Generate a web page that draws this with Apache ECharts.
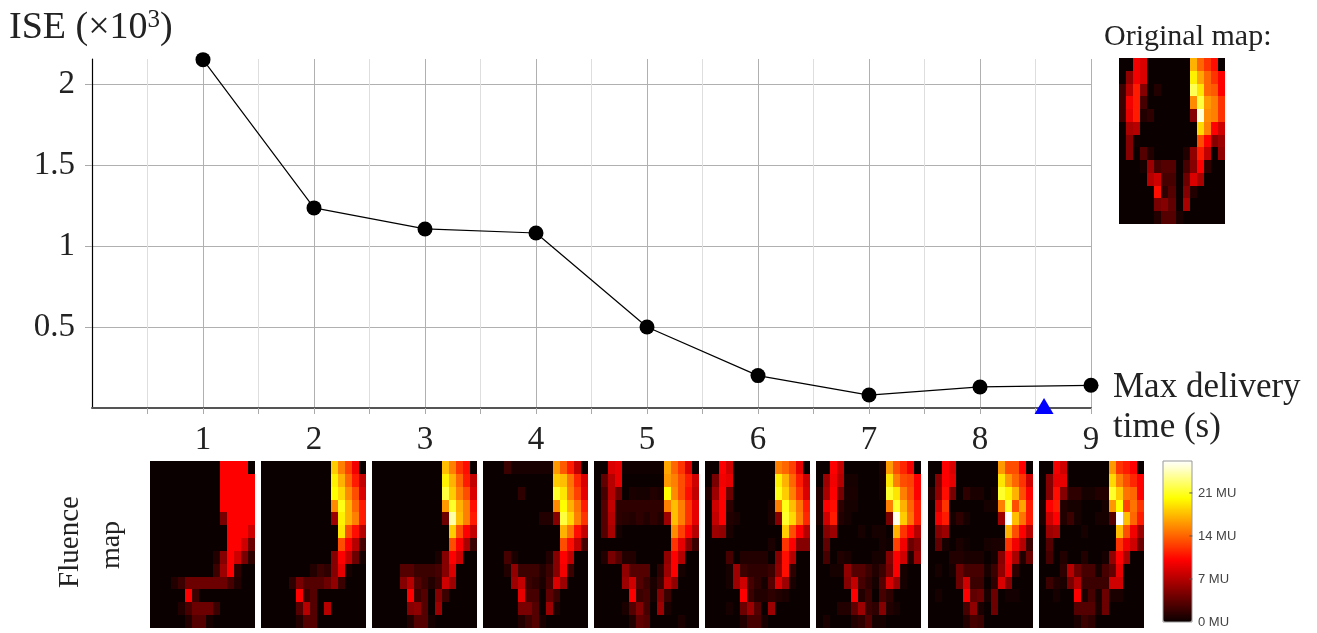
<!DOCTYPE html>
<html><head><meta charset="utf-8">
<style>html,body{margin:0;padding:0;background:#fff}#c{width:1317px;height:633px}</style>
<script src="https://cdn.jsdelivr.net/npm/echarts@6/dist/echarts.min.js"></script>
</head><body><div id="c"></div>
<script>
const timeValues = [1,2,3,4,5,6,7,8,9];
const iseValues = [2.15,1.235,1.105,1.08,0.5,0.2,0.08,0.13,0.14];
const markerPoint = [8.577,0.012];
const yTicks = [0.5,1,1.5,2];
const barTicks = [0,7,14,21];
const hotColors = ['#0a0000','#3b0000','#6c0000','#9d0000','#ce0000','#ff0000','#ff3300','#ff6600','#ff9900','#ffcc00','#ffff00','#ffff55','#ffffaa','#ffffff'];

const originalMap = [
[0,0,9.5,8.5,0,0,0,0,0,0,17,14,12,10.5,0],
[0,5.5,9.5,8.5,0,0,0,0,0,0,19.5,16.5,14,12,10],
[2,7,11,5,0,1,0,0,0,0,22,19,14,13.5,10],
[2,9.5,11,2.5,0,0,0,0,0,0,15.5,21.5,16,15,12],
[2,9,11,1,1.5,0,0,0,0,0,5,25,15.5,15,12],
[0,6.5,7,0,0,0,0,0,0,0,0,18.5,15,10,8],
[0,5,0.3,0,0,0,0,0,0,0,0,13,10,5,6],
[0,5,0,3,1,0,0,0,0,1,5.5,11,7.5,0,5.5],
[0,0,0,0.5,6,2.5,3,3,0,2.5,5,10,1.5,0,0],
[0,0,0,0,7,8,2.5,2.5,0,4,8.5,6.5,0,0,0],
[0,0,0,0,0,10.5,1.5,3,0,5,1,0,0,0,0],
[0,0,0,0,0,4.5,5,3.5,0,6.5,0,0,0,0,0],
[0,0,0,0,0,1,3,3,0.7,0,0,0,0,0,0]];
const map1 = [
[0,0,0,0,0,0,0,0,0,0,10,10,10,10,0],
[0,0,0,0,0,0,0,0,0,0,10,10,10,10,10],
[0,0,0,0,0,0,0,0,0,0,10,10,10,10,10],
[0,0,0,0,0,0,0,0,0,0,10,10,10,10,10],
[0,0,0,0,0,0,0,0,0,0,4.5,10,10,10,10],
[0,0,0,0,0,0,0,0,0,0,0,10,10,10,8],
[0,0,0,0,0,0,0,0,0,0,0,10,10,8,4],
[0,0,0,0,0,0,0,0,0,1,5,10,8,4.5,1.5],
[0,0,0,0,0,0,0,0,0,2,6,10,1.5,0,0],
[0,0,0,1,2,4,4,4,4,4,4,2.5,1,0,0],
[0,0,0,0,0,10,2,0,0,0,0,0,0,0,0],
[0,0,0,0,1,2.5,4,4,4,2,0,0,0,0,0],
[0,0,0,0,0,1,3,3,0.5,0,0,0,0,0,0]];
const map2 = [
[0,0,0,0,0,0,0,0,0,0,18,15,12.5,9.5,0],
[0,0,0,0,0,0,0,0,0,0,19.5,17,14,11,7.5],
[0,0,0,0,0,0,0,0,0,0,20,18.5,15.5,13,8.5],
[0,0,0,0,0,0,0,0,0,0,15.5,20.5,17,14,11],
[0,0,0,0,0,0,0,0,0,0,6,19.5,17,15,11],
[0,0,0,0,0,0,0,0,0,0,0,19,13,10.5,7],
[0,0,0,0,0,0,0,0,0,0,0,13,10,7,2.5],
[0,0,0,0,0,0,0,0,0,0,5,10,7.5,4,0.5],
[0,0,0,0,0,0,0,1,2,1.5,5,9,0.5,0,0],
[0,0,0,0,1.5,4.5,3,3,3,4,5.5,2,0,0,0],
[0,0,0,0,0,10,2,3,0,0,0,0,0,0,0],
[0,0,0,0,0,3,7,3,0,7,0,0,0,0,0],
[0,0,0,0,0,1,3,3,0,0,0,0,0,0,0]];
const map3 = [
[0,0,0,0,0,0,0,0,0,0,17.5,15,12,10.5,0],
[0,0,0,0,0,0,0,0,0,0,19.5,17,14,11,7.5],
[0,0,0,0,0,0,0,0,0,0,21.5,18,15,13,8.5],
[0,0,0,0,0,0,0,0,0,0,16,21,17,15,10.5],
[0,0,0,0,0,0,0,0,0,0,4,24,17.5,15,11],
[0,0,0,0,0,0,0,0,0,0,0,18,13,10,7.5],
[0,0,0,0,0,0,0,0,0,0,0,13,10,6.5,2],
[0,0,0,0,0,0,0,0,0,0.7,5,10,8,0,0],
[0,0,0,0,3,3,2,2,2,2.5,5,8.5,0,0,0],
[0,0,0,0,5,7,3,2,1,2,8,6,0,0,0],
[0,0,0,0,0,10,2,3,0,5,2,0,0,0,0],
[0,0,0,0,0,5,5.5,3,0,6,0,0,0,0,0],
[0,0,0,0,0,1,3,3,0.5,0,0,0,0,0,0]];
const map4 = [
[0,0,0,2,0.6,0.6,0.6,0.6,0.6,0.6,16,13.5,11,7.5,0],
[0,0,0,0,0,0,0,0,0,0,18,17.5,14.5,11.5,8.5],
[0,0,0,0,0,1.5,0,0,0,0,21,19,15,12.5,9],
[0,0,0,0,0,0,0,0,0,0,15.5,20,17,14.5,11],
[0,0,0,0,0,0,0,0,1,1,5,21.5,18.5,15,12],
[0,0,0,0,0,0,0,0,0,0,0,17,14.5,10.5,7.5],
[0,0,0,0,0,0,0,0,0,0,0,13,10.5,7.5,2.5],
[0,0,0,2.5,0.7,0,0,0,0,1,5,10,7.5,0,0],
[0,0,0,1,5.5,2,2,2,1,2,5,9.5,2,0,0],
[0,0,0,0,6,7.5,2,1.5,0.7,2.5,8.5,6,0,0,0],
[0,0,0,0,0,9,2.5,2.5,0,3.5,2,0,0,0,0],
[0,0,0,0,0,4.5,4.5,3,0,6,0.7,0,0,0,0],
[0,0,0,0,0,1,2,3,0.7,0,0,0,0,0,0]];
const map5 = [
[0,0,8.5,9,0.3,0.3,0.3,0.3,0.3,0.3,16.5,14,12,8.5,0],
[0,3.5,7,9,0,0,0,0,0,0,16,15,13,11,8],
[0,2.5,7,4,0,0.7,0.5,0.5,1,0.7,20,15.5,13,10.5,7.5],
[0,3,7.5,1.5,1.5,1.5,1.5,1.5,1.5,1.5,15,17.5,15,12,9],
[0,3,7,1.5,1.2,1,1.5,1,1.5,1,6,17.5,15,12,9],
[0,3,6.5,0.5,0,0,0,0,0,0,0,15.5,12.5,10,7],
[0,0,0,0,0,0,0,0,0,0,0,12,9,5,2],
[0,1,4.5,3,1,1,0,0,0,0,5.5,10,7,0,0],
[0,0,0,0,5.5,3,3,3,0,1.5,6,10,0.5,0,0],
[0,0,0,0,6,8,3,2,0.7,2,7.5,5.5,0,0,0],
[0,0,0,0,0,10,2,2.5,0.5,5,2,0,0,0,0],
[0,0,0,0,0.7,3,5,2.5,0,6,0.7,0,0,0,0],
[0,0,0,0,0,1,3.5,3,0,0,0,0,0.7,0,0]];
const map6 = [
[0,0,10,8,0,0,0,0,0,0,15,14,12.5,9,0],
[0,4.5,9.5,9,0,0,0,0,0,0,19.5,17,14,11,8],
[1,6,10,4,0,0,0,0,0,0,20.5,18,15,12,8.5],
[0,8,10,1.5,0,0,0,0,0,0.5,15,20.5,17.5,14.5,11],
[0,7.5,10,1,0.7,0,0,0,0,0.7,5,21,18.5,15,11.5],
[0,6,5.5,0.7,0,0,0,0,0,0,0,18,13,10,7],
[0,0,0,0,0,0,0,0,0,0.7,0,12,10,5,5],
[0,0,0,2.5,0,1,1,1,1,0,5,10.5,7,0,0],
[0,0,0,0.5,6,2,1.5,1.5,1.5,2,5.5,10.5,1.5,0,0],
[0,0,0,0.5,6,8,2.5,1.5,0.5,3,8.5,6,0.7,0,0],
[0,0,0,0,0,10,2,1,1,1.5,1,0.7,0,0,0],
[0,0,0,0.5,0,4,6,3,0,6,0,0,0,0,0],
[0,0,0,0,0,1,2.5,2.5,0.7,0,0,0,0,0,0]];
const map7 = [
[0,0,10,7.5,0,0,0,0,0,0.7,16,13,11.5,9.5,0],
[0,6,9.5,7,0.5,0.5,0,0,0,0.5,19,15,13,12.5,10],
[1,6.5,10,4.5,0.7,0.7,0,0,0,0.5,21,19,15,13,10],
[0.7,10,10.5,1.5,0.5,0.5,0,0,0,0,15,21,17,14,11],
[0.7,8,11,1,0.5,0,0,0,0,0,4.5,25.5,18,14.5,11],
[0,5,6,0,0,0,0.5,0,0.5,0.5,0,17,12,10,7],
[0,3.5,0,0,0,0,0,0,0,0.5,0.3,12.5,9.5,4,5],
[0,2.5,0,1,0.7,0,0,0,0.5,0.5,5,10,8,1,6],
[0,0,0.5,0.5,5.5,3,3,2,1,2,4.5,10,0.5,0,0],
[0,0,0,0,5,7.5,2.5,1.5,0.5,3,8.5,6,0.5,0,0],
[0,0,0,0,0,10,1,2,0,2.5,1.5,0,0,0,0],
[0,0,0,1,1,3.5,6,2,1.5,5,1,0.5,0,0,0],
[0,0.7,0,0,0,1,1.5,3,0.5,0.5,0,0,0,0,0]];
const map8 = [
[0,0,10,8.5,0,0,0,0,0,0,16,13,13,10,0],
[0,5,10,9,0,0,0,0,0,0,19,16,14,12,8],
[1,5.5,10.5,4.5,0,1.5,0.7,0.7,0,0.5,21,19.5,17,13,10],
[0,8,12,0,0,0,0,0,0.5,0.5,15,21,13,16.5,11],
[0,9.5,11,0.5,1.5,0.5,0,0,0,0,6,26,17.5,14.5,11],
[0,5,6,0,0,0,0,0,0,0,0,17,13,10,7],
[0,3.5,0.5,0,0.7,0.3,0,0,0.5,0.7,0.7,12,9.5,7,2],
[0,0,0,1,1,0.7,0.7,0.7,0,0.5,5,10,6.5,1,4],
[0,0.5,0,0.5,4,2.5,2.5,2.5,0.7,2,5.5,9.5,1.5,0,0],
[0,0,0,0,4,8,2,2,0,1.5,8.5,5,0,0,0],
[0,0.5,0,0,0,10,3.5,4,0.7,4,0,0.4,0.4,0,0],
[0,0,0,0,0,2.5,5.5,0.7,0,4,0,0,0,0,0],
[0,0,0,0,0,1,2.5,2,0,0,0,0,0,0,0]];
const map9 = [
[0,0,9.5,8,0,0,0,0,0,0,16,12,11,10,0],
[0,5,9,9,0,0,0,0,0,0,18.5,15,13,11.5,10],
[0,5,10.5,5,1.5,1.5,0.5,0.5,1,1,21,18,14.5,14,10],
[0.7,10,11,1,0.5,0.5,0,0,0,0.5,16,20,12.5,14.5,12],
[0.7,8,10,1,2,0.5,0,0,0.5,0.5,3,26,17.5,14,11],
[0,6,6.5,0,0,0,0.5,0,0,0,0,17.5,13,9.5,6],
[0,3,0,0,0,0,0,0,0,0,0,12,9.5,8,4],
[0,2.5,0,1,0,0,1,0,0,0.5,5.5,10,6.5,0,0],
[0,0,0,1.5,7,4,2.5,2.5,0.5,2.5,3.5,9,0,0,0],
[0,2,1,0.7,4.5,7,2,2,2,2,8,8,0,0,0],
[0,0,0.5,0,0,10,0.7,2.5,0.5,4,0.7,0.7,0,0,0],
[0,0,0,0,0,3,3,3,0.7,4,0,0,0,0,0],
[0,0,0,0,0,0.7,2,1.5,0,0,0,0,0,0,0]];

const maps = [map1,map2,map3,map4,map5,map6,map7,map8,map9];
const mapLefts = [150,261,372,483,594,705,816,928,1039];
const serif = '"Liberation Serif",serif';

const grids = [{left:92,top:59,width:999,height:349}];
const xAxes = [{
  type:'value',gridIndex:0,min:0,max:9,interval:1,
  axisLine:{show:true,onZero:false,lineStyle:{color:'#555',width:2}},
  axisTick:{show:true,length:6,customValues:timeValues,lineStyle:{color:'#aaa'}},
  minorTick:{show:true,splitNumber:2,length:6,lineStyle:{color:'#aaa'}},
  axisLabel:{customValues:timeValues,color:'#222',fontFamily:serif,fontSize:33,margin:16,hideOverlap:false},
  splitLine:{show:true,lineStyle:{color:'#b0b0b0',width:1}},
  minorSplitLine:{show:true,lineStyle:{color:'#dedede',width:1}}
}];
const yAxes = [{
  type:'value',gridIndex:0,min:0,max:2.154,interval:0.5,
  axisLine:{show:true,onZero:false,lineStyle:{color:'#000',width:1.2}},
  axisTick:{show:true,length:7,customValues:yTicks,lineStyle:{color:'#aaa'}},
  axisLabel:{customValues:yTicks,color:'#222',fontFamily:serif,fontSize:33,margin:17,padding:[12,0,0,0],formatter:v=>String(v)},
  splitLine:{show:true,lineStyle:{color:'#b0b0b0',width:1}}
}];
const series = [
  {type:'line',xAxisIndex:0,yAxisIndex:0,data:timeValues.map((t,i)=>[t,iseValues[i]]),clip:false,z:5,
   symbol:'circle',symbolSize:15,lineStyle:{color:'#000',width:1.2},itemStyle:{color:'#000'},animation:false},
  {type:'scatter',xAxisIndex:0,yAxisIndex:0,data:[markerPoint],clip:false,z:6,
   symbol:'triangle',symbolSize:[19,16],itemStyle:{color:'#0000ff',opacity:1},animation:false}
];
function drawCell(params,api){
  const p = api.coord([api.value(0),api.value(1)]);
  const s = api.size([1,1]);
  const x0 = Math.round(p[0]-s[0]/2), x1 = Math.round(p[0]+s[0]/2);
  const y0 = Math.round(p[1]-s[1]/2), y1 = Math.round(p[1]+s[1]/2);
  return {type:'rect',shape:{x:x0,y:y0,width:x1-x0,height:y1-y0},style:{fill:api.visual('color')}};
}
function addMap(m,left,top,w,h){
  const idx = grids.length;
  grids.push({left:left,top:top,width:w,height:h});
  xAxes.push({type:'category',gridIndex:idx,data:m[0].map((_,i)=>i),show:false});
  yAxes.push({type:'category',gridIndex:idx,data:m.map((_,i)=>i),inverse:true,show:false});
  const data=[];
  m.forEach((row,r)=>row.forEach((v,c)=>data.push([c,r,v])));
  series.push({type:'custom',xAxisIndex:idx,yAxisIndex:idx,data:data,renderItem:drawCell,
    encode:{x:0,y:1},animation:false,silent:true});
  return series.length-1;
}
const heatIdx = [];
maps.forEach((m,i)=>heatIdx.push(addMap(m,mapLefts[i],461,105,167)));
heatIdx.push(addMap(originalMap,1119,58,106,166));

// colour bar axis
const bi = grids.length;
grids.push({left:1163,top:461,width:29,height:161,show:true,borderColor:'#999',borderWidth:1,backgroundColor:'transparent',z:9});
xAxes.push({type:'value',gridIndex:bi,min:0,max:1,show:false});
yAxes.push({type:'value',gridIndex:bi,min:0,max:26.2,position:'right',interval:7,z:9,
  axisLine:{show:false},splitLine:{show:false},axisTick:{show:false},
  axisLabel:{customValues:barTicks,margin:6,padding:[3,0,0,0],fontFamily:'"Liberation Sans",sans-serif',fontSize:13,color:'#444',formatter:v=>v+' MU'}
});
series.push({type:'scatter',xAxisIndex:bi,yAxisIndex:bi,data:barTicks.slice(1).map(v=>[0.96,v]),symbol:'rect',symbolSize:[3,1],
  itemStyle:{color:'#555',opacity:1},z:10,animation:false,silent:true});

const chart = echarts.init(document.getElementById('c'),null,{renderer:'canvas'});
chart.setOption({
  animation:false,backgroundColor:'#fff',
  grid:grids,xAxis:xAxes,yAxis:yAxes,series:series,
  visualMap:{type:'continuous',min:0,max:26,dimension:2,seriesIndex:heatIdx,calculable:false,realtime:false,
    left:1163,top:461,itemWidth:29,itemHeight:161,padding:0,text:null,showLabel:false,hoverLink:false,
    inRange:{color:hotColors},textStyle:{fontSize:0}},
  graphic:[
    {type:'text',left:9,top:8,style:{text:'ISE (×10{s|3})',fill:'#222',font:'38px '+serif,
      rich:{s:{fontSize:25,fontFamily:serif,fill:'#222',padding:[0,0,16,0]}}}},
    {type:'text',left:1104,top:22,style:{text:'Original map:',fill:'#222',font:'30px '+serif}},
    {type:'text',left:1113,top:368,style:{text:'Max delivery\ntime (s)',fill:'#222',font:'35px '+serif,lineHeight:40}},
    {type:'text',x:70,y:542,rotation:Math.PI/2,style:{text:'Fluence',fill:'#222',font:'29px '+serif,textAlign:'center',textVerticalAlign:'middle'}},
    {type:'text',x:112,y:545,rotation:Math.PI/2,style:{text:'map',fill:'#222',font:'28px '+serif,textAlign:'center',textVerticalAlign:'middle'}}
  ]
});
</script></body></html>
